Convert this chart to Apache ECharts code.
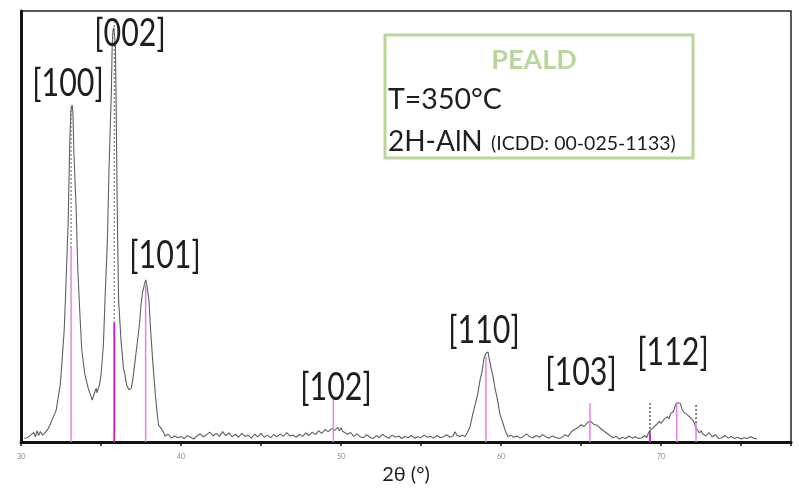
<!DOCTYPE html>
<html>
<head>
<meta charset="utf-8">
<script src="https://cdn.jsdelivr.net/npm/echarts@6/dist/echarts.min.js"></script>
<style>html,body{margin:0;padding:0;background:#fff;}#chart{width:799px;height:488px;}</style>
</head>
<body>
<div id="chart"></div>
<script>
// Measured XRD pattern (2θ in degrees, intensity in arbitrary units)
const twoTheta = [
30.2,30.4,30.6,30.8,30.9,31.0,31.1,31.2,31.35,31.5,31.65,31.8,32.0,32.2,32.3,32.45,32.55,32.7,32.8,32.95,
33.05,33.12,33.2,33.25,33.3,33.45,33.55,33.7,33.8,34.0,34.2,34.3,34.45,34.55,34.7,34.75,34.9,35.0,35.15,35.25,
35.4,35.5,35.65,35.7,35.75,35.8,35.9,35.95,36.0,36.05,36.1,36.25,36.4,36.5,36.6,36.75,36.9,37.0,37.1,37.25,
37.4,37.5,37.6,37.75,37.8,37.85,38.0,38.1,38.25,38.4,38.5,38.6,38.75,38.9,39.0,
39.2,39.4,39.6,39.8,40.0,40.2,40.4,40.6,40.8,41.0,41.2,41.4,41.6,41.8,42.0,42.2,42.4,42.6,42.8,43.0,
43.2,43.4,43.6,43.8,44.0,44.2,44.4,44.6,44.8,45.0,45.2,45.4,45.6,45.8,46.0,46.2,46.4,46.6,46.8,47.0,
47.2,47.4,47.6,47.8,48.0,48.2,48.4,48.6,48.8,49.0,49.2,49.4,49.6,49.8,49.9,50.0,50.1,50.2,50.4,50.6,
50.8,51.0,51.2,51.4,51.6,51.8,52.0,52.2,52.4,52.6,52.8,53.0,53.2,53.4,53.6,53.8,54.0,54.2,54.4,54.6,
54.8,55.0,55.2,55.4,55.6,55.8,56.0,56.2,56.4,56.6,56.8,57.0,57.13,57.25,57.44,57.6,57.75,57.94,58.06,58.25,
58.44,58.56,58.69,58.81,58.94,59.06,59.13,59.19,59.25,59.38,59.5,59.63,59.75,59.94,60.06,60.25,60.44,60.6,60.8,61.0,
61.2,61.4,61.6,61.8,62.0,62.2,62.4,62.6,62.8,63.0,63.2,63.4,63.6,63.8,64.0,64.2,64.4,64.6,64.8,65.0,
65.2,65.4,65.6,65.8,66.0,66.2,66.4,66.6,66.8,67.0,67.2,67.4,67.6,67.8,68.0,68.2,68.4,68.6,68.8,68.9,
69.0,69.1,69.2,69.3,69.4,69.5,69.6,69.7,69.8,69.9,70.0,70.2,70.4,70.5,70.6,70.8,70.9,71.0,71.1,71.2,
71.3,71.4,71.5,71.6,71.7,71.8,71.9,72.0,72.1,72.2,72.3,72.4,72.5,72.6,72.8,73.0,73.2,73.4,73.6,73.8,
74.0,74.2,74.4,74.6,74.8,75.0,75.2,75.4,75.6,75.8,76.0
];
const intensity = [
0.9,1.0,1.6,2.2,1.2,2.6,1.5,2.4,1.6,2.1,2.8,3.9,5.6,7.4,9.7,13.2,17.9,26.0,35.3,51.5,
70.0,77.0,78.2,75.9,67.7,53.8,39.9,28.3,21.3,15.5,12.5,11.4,9.7,10.9,12.5,11.4,13.2,15.5,22.5,32.9,
46.9,63.1,81.7,92.1,95.6,96.1,92.1,77.0,58.5,44.5,32.9,23.7,17.2,15.5,13.2,12.1,12.5,14.8,17.9,22.5,
27.1,31.8,34.8,37.1,37.6,36.7,32.9,26.0,17.9,10.9,7.0,3.9,3.2,2.3,1.4,
1.8,0.9,1.4,1.0,1.3,0.8,1.5,1.1,0.7,1.4,1.9,1.2,1.7,2.3,1.4,2.0,1.3,2.4,1.5,2.1,
1.2,1.8,1.1,2.0,1.3,1.6,0.9,1.8,1.2,2.0,1.1,1.6,1.0,1.7,1.2,1.9,1.3,2.2,1.4,1.6,
1.1,1.8,1.3,2.1,1.5,2.3,1.7,2.6,2.0,2.9,2.4,3.1,2.7,3.4,2.6,3.3,2.5,2.8,1.8,2.2,
1.3,1.9,1.2,1.0,1.7,1.1,0.8,1.5,1.0,1.8,1.2,0.9,1.6,1.1,1.4,0.8,1.3,1.0,1.5,0.9,
1.2,1.0,1.6,1.1,1.3,0.9,1.5,1.0,1.2,1.7,1.1,1.4,2.4,1.5,1.3,1.6,1.2,2.5,3.5,6.7,
9.5,11.4,14.4,16.2,19.5,20.6,20.4,20.9,19.5,17.2,15.3,12.3,10.4,6.3,5.1,2.8,1.2,1.6,1.1,1.4,
0.9,1.3,1.9,1.2,1.0,1.5,1.1,1.7,1.2,0.9,1.4,1.1,0.8,1.0,1.7,1.3,2.4,2.9,3.3,4.0,
3.6,4.5,4.8,4.1,3.9,3.2,2.6,2.1,1.5,1.0,1.3,0.7,1.1,0.8,1.4,0.9,1.2,0.8,1.0,0.6,
1.5,1.0,2.0,2.6,2.2,3.3,3.0,4.0,3.6,4.8,4.3,5.3,5.9,5.4,6.6,7.2,8.6,9.1,8.7,9.0,
7.8,7.0,7.3,6.4,6.6,5.8,5.4,5.0,4.2,3.2,2.9,2.1,2.6,1.9,1.4,2.2,1.2,1.7,0.8,1.0,
1.5,0.9,1.3,0.8,1.1,0.7,1.0,0.8,1.2,0.9,0.7
];
// ICDD 00-025-1133 reference lines
const refPos = [33.13, 35.83, 37.79, 49.52, 59.06, 65.56, 69.31, 70.98, 72.19];
const refInt = [45.0, 27.6, 36.5, 10.2, 19.7, 9.0, 2.1, 9.0, 4.4];
const refStrong = [false, true, false, false, false, false, true, false, false];
// dashed guide lines
const guidePos = [33.13, 35.83, 69.31, 72.19];
const guideLow = [45.0, 27.6, 2.1, 4.4];
const guideHigh = [78.0, 97.4, 9.0, 9.0];
// axis
const xMin = 30, xMax = 78.125, xStep = 5;
// annotations
const peakLabels = ['[100]', '[002]', '[101]', '[102]', '[110]', '[103]', '[112]'];

const curve = twoTheta.map((t, i) => [t, intensity[i]]);
const sticks = refPos.map((p, i) => [p, refInt[i], refStrong[i] ? 1 : 0]);
const guides = guidePos.map((p, i) => [p, guideLow[i], guideHigh[i], i < 2 ? 1 : 0]);

const labelCenters = [[68, 84], [130, 34], [165, 256], [336, 388], [484, 331], [581, 373], [673, 353]];
const labelFont = '38px Lato';
const labelScale = 0.8;

const chart = echarts.init(document.getElementById('chart'));
const graphics = peakLabels.map((t, i) => ({
  type: 'text', x: labelCenters[i][0], y: labelCenters[i][1], scaleX: labelScale, z: 100,
  style: { text: t, font: labelFont, fill: '#1e1e1e', textAlign: 'center', textVerticalAlign: 'middle' }
}));
graphics.push(
  { type: 'rect', z: 100, shape: { x: 385, y: 35, width: 308, height: 123 },
    style: { fill: '#ffffff', stroke: '#bad69c', lineWidth: 3 } },
  { type: 'text', z: 101, x: 534, y: 60,
    style: { text: 'PEALD', font: 'bold 27px Lato', fill: '#bad69c', textAlign: 'center', textVerticalAlign: 'middle' } },
  { type: 'text', z: 101, x: 388, y: 100,
    style: { text: 'T=350°C', font: '28.5px Lato', fill: '#1e1e1e', textAlign: 'left', textVerticalAlign: 'middle' } },
  { type: 'text', z: 101, x: 388, y: 142,
    style: { text: '2H-AlN', font: '28px Lato', fill: '#1e1e1e', textAlign: 'left', textVerticalAlign: 'middle' } },
  { type: 'text', z: 101, x: 491, y: 144,
    style: { text: '(ICDD: 00-025-1133)', font: '19.5px Lato', fill: '#1e1e1e', textAlign: 'left', textVerticalAlign: 'middle' } }
);

chart.setOption({
  animation: false,
  backgroundColor: '#ffffff',
  grid: { left: 21, right: 8, top: 11, bottom: 46, show: true, borderColor: '#222', borderWidth: 1.5, containLabel: false, outerBoundsMode: 'none' },
  xAxis: {
    type: 'value', min: xMin, max: xMax, interval: xStep,
    name: '2θ (°)', nameLocation: 'middle', nameGap: 22,
    nameTextStyle: { fontFamily: 'Lato', fontSize: 20, color: '#1e1e1e' },
    axisLine: { show: true, onZero: false, lineStyle: { color: '#111', width: 3 } },
    axisTick: { show: true, length: 4, lineStyle: { color: '#111', width: 1.5 } },
    axisLabel: { fontSize: 7, color: '#888', margin: 11, fontFamily: 'Lato',
      formatter: v => (Math.round(v) % 10 === 0 ? String(Math.round(v)) : '') },
    splitLine: { show: false }
  },
  yAxis: {
    type: 'value', min: 0, max: 100,
    axisLine: { show: true, lineStyle: { color: '#111', width: 3 } },
    axisTick: { show: false }, axisLabel: { show: false }, splitLine: { show: false }
  },
  graphic: graphics,
  series: [
    {
      type: 'line', data: curve, symbol: 'none', smooth: false,
      lineStyle: { color: '#5f5f5f', width: 1.1 }, z: 2
    },
    {
      type: 'custom', data: guides, z: 3,
      encode: { x: 0, y: [1, 2] },
      renderItem: (params, api) => {
        const p0 = api.coord([api.value(0), api.value(1)]);
        const p1 = api.coord([api.value(0), api.value(2)]);
        const light = api.value(3) === 1;
        return { type: 'line', shape: { x1: p0[0], y1: p0[1], x2: p1[0], y2: p1[1] },
          style: { stroke: light ? '#777' : '#333', lineWidth: 1.2, lineDash: [2, 2] } };
      }
    },
    {
      type: 'custom', data: sticks, z: 4,
      encode: { x: 0, y: 1 },
      renderItem: (params, api) => {
        const p0 = api.coord([api.value(0), 0]);
        const p1 = api.coord([api.value(0), api.value(1)]);
        const strong = api.value(2) === 1;
        return { type: 'line', shape: { x1: p0[0], y1: p0[1], x2: p1[0], y2: p1[1] },
          style: { stroke: strong ? '#d21fcb' : '#e87fe6', lineWidth: strong ? 2 : 1.5 } };
      }
    }
  ]
});
</script>
</body>
</html>
